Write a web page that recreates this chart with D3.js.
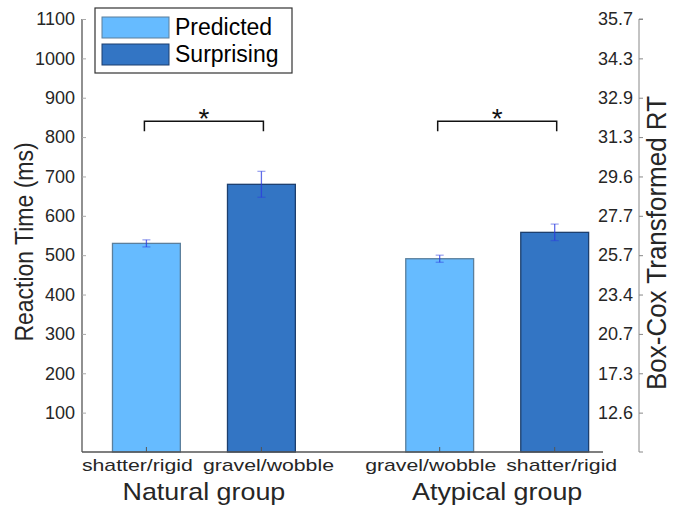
<!DOCTYPE html>
<html>
<head>
<meta charset="utf-8">
<script src="https://cdn.jsdelivr.net/npm/d3@7"></script>
<style>
  body { margin: 0; background: #fff; }
  text { font-family: "Liberation Sans", Arial, sans-serif; fill: #262626; }
</style>
</head>
<body>
<svg width="681" height="507"></svg>
<script>
// chart data
var groups = ["Natural group", "Atypical group"];
var groupPos = [1.5, 4.05];
var conditions = ["shatter/rigid", "gravel/wobble", "gravel/wobble", "shatter/rigid"];
var condType = ["Predicted", "Surprising", "Predicted", "Surprising"];
var barPos = [1, 2, 3.55, 4.55];
var meanRT = [530, 680, 491, 558];
var semRT = [9, 33, 9, 21];
var rtTicks = [100, 200, 300, 400, 500, 600, 700, 800, 900, 1000, 1100];
var boxCoxLabels = ["12.6", "17.3", "20.7", "23.4", "25.7", "27.7", "29.6", "31.3", "32.9", "34.3", "35.7"];
var brackets = [[0, 1], [2, 3]];
var bracketTop = 840, bracketFoot = 815, starLevel = 857;

var svg = d3.select("svg");

var x = d3.scaleLinear().domain([0.44, 4.97]).range([82, 603]);
var y = d3.scaleLinear().domain([0, 1100]).range([452, 19]);
var color = d3.scaleOrdinal().domain(["Predicted", "Surprising"]).range(["#66bbff", "#3375c4"]);
var edge = d3.scaleOrdinal().domain(["Predicted", "Surprising"]).range(["#5b7f9c", "#1d3f6e"]);
var barW = x(0.59) - x(0);

var bars = d3.range(meanRT.length);

// bars
svg.selectAll(".bar")
  .data(bars)
  .enter().append("rect")
  .attr("class", "bar")
  .attr("x", function(i) { return x(barPos[i]) - barW / 2; })
  .attr("y", function(i) { return y(meanRT[i]); })
  .attr("width", barW)
  .attr("height", function(i) { return y(0) - y(meanRT[i]); })
  .style("fill", function(i) { return color(condType[i]); })
  .style("stroke", function(i) { return edge(condType[i]); })
  .style("stroke-width", 1.3);

// error bars
var err = svg.selectAll(".err")
  .data(bars)
  .enter().append("g")
  .attr("class", "err")
  .style("stroke", "#2b3be0")
  .style("stroke-opacity", 0.75)
  .style("stroke-width", 1.3);

err.append("line")
  .attr("x1", function(i) { return x(barPos[i]); })
  .attr("x2", function(i) { return x(barPos[i]); })
  .attr("y1", function(i) { return y(meanRT[i] - semRT[i]); })
  .attr("y2", function(i) { return y(meanRT[i] + semRT[i]); });

[-1, 1].forEach(function(s) {
  err.append("line")
    .attr("x1", function(i) { return x(barPos[i]) - 4; })
    .attr("x2", function(i) { return x(barPos[i]) + 4; })
    .attr("y1", function(i) { return y(meanRT[i] + s * semRT[i]); })
    .attr("y2", function(i) { return y(meanRT[i] + s * semRT[i]); })
    .style("stroke-opacity", 0.45);
});

// left axis
var left = svg.append("g")
  .attr("transform", "translate(82,0)")
  .call(d3.axisLeft(y).tickValues(rtTicks).tickFormat(d3.format("d"))
    .tickSize(-4).tickPadding(7).tickSizeOuter(0));
left.select(".domain").attr("stroke", "#555").attr("stroke-width", 1.3).attr("d", "M0," + y(1100) + "V" + y(0));
left.selectAll(".tick line").attr("stroke", "#aaa");
left.selectAll(".tick text").style("font-size", "18px").attr("fill", "#262626");

// bottom axis line and x ticks
svg.append("line")
  .attr("x1", x(0.44)).attr("x2", x(4.97))
  .attr("y1", y(0)).attr("y2", y(0))
  .style("stroke", "#555").style("stroke-width", 1.3);

svg.selectAll(".xtick")
  .data(bars)
  .enter().append("line")
  .attr("x1", function(i) { return x(barPos[i]); })
  .attr("x2", function(i) { return x(barPos[i]); })
  .attr("y1", y(0)).attr("y2", y(0) - 5)
  .style("stroke", "#555");

// labels of a pair are nudged apart so they don't collide
svg.selectAll(".xlab")
  .data(bars)
  .enter().append("text")
  .attr("transform", function(i) {
    var nudge = (i % 2 === 0) ? -9 : 7;
    return "translate(" + (x(barPos[i]) + nudge) + ",471) scale(1.25,1)";
  })
  .attr("text-anchor", "middle")
  .style("font-size", "17px")
  .text(function(i) { return conditions[i]; });

svg.selectAll(".glab")
  .data(groups)
  .enter().append("text")
  .attr("transform", function(d, i) { return "translate(" + x(groupPos[i]) + ",500) scale(1.12,1)"; })
  .attr("text-anchor", "middle")
  .style("font-size", "24px")
  .text(function(d) { return d; });

// right axis (Box-Cox transformed values at the same positions)
var right = svg.append("g")
  .attr("transform", "translate(639,0)")
  .call(d3.axisLeft(y).tickValues(rtTicks).tickSize(-4).tickPadding(6)
    .tickFormat(function(d, i) { return boxCoxLabels[i]; }).tickSizeOuter(0));
right.select(".domain").attr("stroke", "#888").attr("d", "M4," + y(1100) + "H0V" + y(0) + "H4");
right.selectAll(".tick line").attr("stroke", "#888");
right.selectAll(".tick text").style("font-size", "18px").attr("fill", "#262626");

// axis titles
svg.append("text")
  .attr("transform", "translate(33,242) rotate(-90) scale(1,1.1)")
  .attr("text-anchor", "middle")
  .style("font-size", "23px")
  .text("Reaction Time (ms)");

svg.append("text")
  .attr("transform", "translate(666,243) rotate(-90) scale(1,1.05)")
  .attr("text-anchor", "middle")
  .style("font-size", "26px")
  .text("Box-Cox Transformed RT");

// significance brackets
brackets.forEach(function(b) {
  var x1 = x(barPos[b[0]]) - 2, x2 = x(barPos[b[1]]) + 2;
  svg.append("path")
    .attr("d", "M" + x1 + "," + y(bracketFoot) + "V" + y(bracketTop) + "H" + x2 + "V" + y(bracketFoot))
    .style("fill", "none").style("stroke", "#111").style("stroke-width", 1.5);
  svg.append("text")
    .attr("x", (x1 + x2) / 2)
    .attr("y", y(starLevel) + 13)
    .attr("text-anchor", "middle")
    .style("font-size", "28px")
    .style("fill", "#111")
    .text("*");
});

// legend
var legend = svg.append("g");
legend.append("rect")
  .attr("x", 95).attr("y", 8).attr("width", 197).attr("height", 65)
  .style("fill", "#fff").style("stroke", "#333").style("stroke-width", 1.2);

legend.selectAll(".key")
  .data(color.domain())
  .enter().append("rect")
  .attr("x", 102)
  .attr("y", function(d, i) { return 17 + 27 * i; })
  .attr("width", 67).attr("height", 21)
  .style("fill", function(d) { return color(d); })
  .style("stroke", function(d) { return edge(d); });

legend.selectAll(".keytext")
  .data(color.domain())
  .enter().append("text")
  .attr("x", 175)
  .attr("y", function(d, i) { return 35 + 27 * i; })
  .style("font-size", "23px")
  .style("fill", "#000")
  .text(function(d) { return d; });
</script>
</body>
</html>
